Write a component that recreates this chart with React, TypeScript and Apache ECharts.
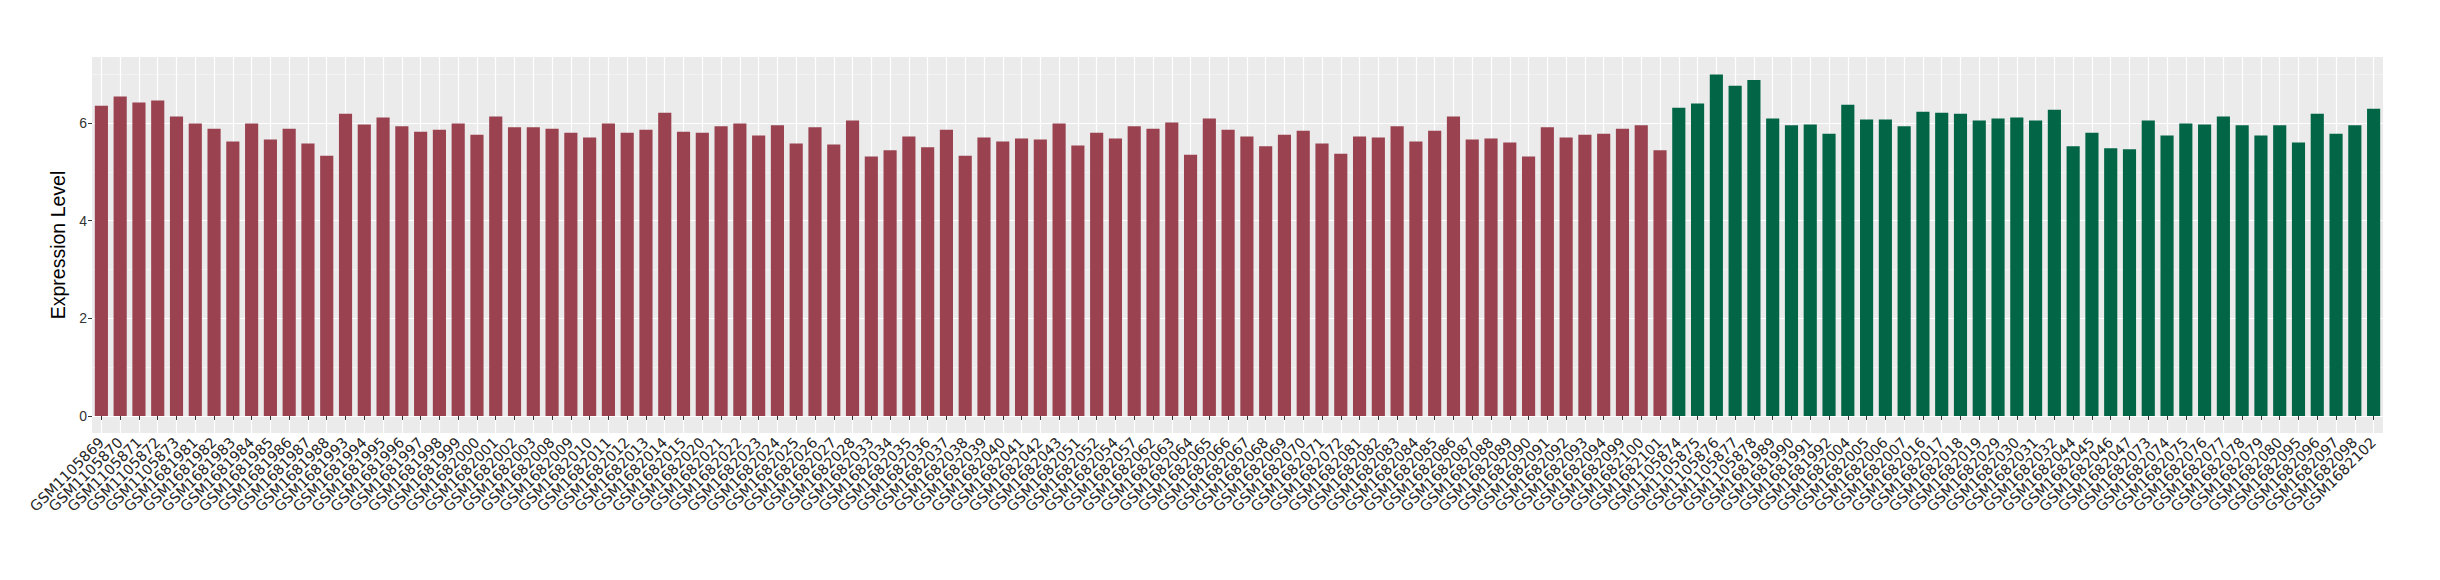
import React, { useEffect, useRef } from "react";
import * as echarts from "echarts";

const redSamples = [
  "GSM1105869", "GSM1105870", "GSM1105871", "GSM1105872", "GSM1105873",
  "GSM1681981", "GSM1681982", "GSM1681983", "GSM1681984", "GSM1681985",
  "GSM1681986", "GSM1681987", "GSM1681988", "GSM1681993", "GSM1681994",
  "GSM1681995", "GSM1681996", "GSM1681997", "GSM1681998", "GSM1681999",
  "GSM1682000", "GSM1682001", "GSM1682002", "GSM1682003", "GSM1682008",
  "GSM1682009", "GSM1682010", "GSM1682011", "GSM1682012", "GSM1682013",
  "GSM1682014", "GSM1682015", "GSM1682020", "GSM1682021", "GSM1682022",
  "GSM1682023", "GSM1682024", "GSM1682025", "GSM1682026", "GSM1682027",
  "GSM1682028", "GSM1682033", "GSM1682034", "GSM1682035", "GSM1682036",
  "GSM1682037", "GSM1682038", "GSM1682039", "GSM1682040", "GSM1682041",
  "GSM1682042", "GSM1682043", "GSM1682051", "GSM1682052", "GSM1682054",
  "GSM1682057", "GSM1682062", "GSM1682063", "GSM1682064", "GSM1682065",
  "GSM1682066", "GSM1682067", "GSM1682068", "GSM1682069", "GSM1682070",
  "GSM1682071", "GSM1682072", "GSM1682081", "GSM1682082", "GSM1682083",
  "GSM1682084", "GSM1682085", "GSM1682086", "GSM1682087", "GSM1682088",
  "GSM1682089", "GSM1682090", "GSM1682091", "GSM1682092", "GSM1682093",
  "GSM1682094", "GSM1682099", "GSM1682100", "GSM1682101",
];

const redValues = [
  6.35, 6.54, 6.42, 6.46, 6.13, 5.99, 5.88, 5.62, 5.99, 5.66,
  5.88, 5.58, 5.33, 6.19, 5.97, 6.11, 5.93, 5.82, 5.86, 5.99,
  5.76, 6.13, 5.91, 5.91, 5.88, 5.80, 5.70, 5.99, 5.80, 5.86,
  6.21, 5.82, 5.80, 5.93, 5.99, 5.74, 5.95, 5.58, 5.91, 5.56,
  6.05, 5.31, 5.44, 5.72, 5.50, 5.86, 5.33, 5.70, 5.62, 5.68,
  5.66, 5.99, 5.54, 5.80, 5.68, 5.93, 5.88, 6.01, 5.35, 6.09,
  5.86, 5.72, 5.52, 5.76, 5.84, 5.58, 5.37, 5.72, 5.70, 5.93,
  5.62, 5.84, 6.13, 5.66, 5.68, 5.60, 5.31, 5.91, 5.70, 5.76,
  5.78, 5.88, 5.95, 5.44,
];

const greenSamples = [
  "GSM1105874", "GSM1105875", "GSM1105876", "GSM1105877", "GSM1105878",
  "GSM1681989", "GSM1681990", "GSM1681991", "GSM1681992", "GSM1682004",
  "GSM1682005", "GSM1682006", "GSM1682007", "GSM1682016", "GSM1682017",
  "GSM1682018", "GSM1682019", "GSM1682029", "GSM1682030", "GSM1682031",
  "GSM1682032", "GSM1682044", "GSM1682045", "GSM1682046", "GSM1682047",
  "GSM1682073", "GSM1682074", "GSM1682075", "GSM1682076", "GSM1682077",
  "GSM1682078", "GSM1682079", "GSM1682080", "GSM1682095", "GSM1682096",
  "GSM1682097", "GSM1682098", "GSM1682102",
];

const greenValues = [
  6.31, 6.40, 6.99, 6.76, 6.88, 6.09, 5.95, 5.97, 5.78, 6.37,
  6.07, 6.07, 5.93, 6.23, 6.21, 6.19, 6.05, 6.09, 6.11, 6.05,
  6.27, 5.52, 5.80, 5.48, 5.46, 6.05, 5.74, 5.99, 5.97, 6.13,
  5.95, 5.74, 5.95, 5.60, 6.19, 5.78, 5.95, 6.29,
];

const yLabelTicks = [0, 2, 4, 6];
const yMinorTicks = [1, 3, 5, 7];

const RED = "#9A4250";
const GREEN = "#026646";

export default function App() {
  const ref = useRef<HTMLDivElement>(null);

  useEffect(() => {
    document.body.style.margin = "0";
    if (!ref.current) return;
    const chart = echarts.init(ref.current, null, { renderer: "svg" });

    const categories = [...redSamples, ...greenSamples];
    const data = [
      ...redValues.map((v) => ({ value: v, itemStyle: { color: RED } })),
      ...greenValues.map((v) => ({ value: v, itemStyle: { color: GREEN } })),
    ];

    chart.setOption({
      animation: false,
      backgroundColor: "#FFFFFF",
      grid: {
        left: 92,
        right: 57,
        top: 57,
        bottom: 147,
        show: true,
        backgroundColor: "#EBEBEB",
        borderWidth: 0,
        containLabel: false,
        outerBoundsMode: "none",
      },
      xAxis: {
        type: "category",
        data: categories,
        axisLine: { show: false },
        axisTick: {
          show: true,
          alignWithLabel: true,
          interval: 0,
          length: 4,
          lineStyle: { color: "#333333", width: 1 },
        },
        splitLine: {
          show: true,
          interval: 0,
          alignWithLabel: true,
          lineStyle: { color: "#FFFFFF", width: 1.2 },
        },
        axisLabel: {
          interval: 0,
          rotate: 45,
          margin: 7,
          fontSize: 14.5,
          fontFamily: "DejaVu Sans",
          color: "#262626",
        },
      },
      yAxis: [
        {
          type: "value",
          min: -0.35,
          max: 7.35,
          name: "Expression Level",
          nameLocation: "middle",
          nameGap: 12,
          nameTextStyle: {
            fontSize: 19.5,
            fontFamily: "Liberation Sans",
            color: "#000000",
          },
          axisLine: { show: false },
          axisTick: {
            show: true,
            length: 4,
            customValues: yLabelTicks,
            lineStyle: { color: "#333333", width: 1 },
          },
          axisLabel: {
            customValues: yLabelTicks,
            margin: 5,
            fontSize: 14,
            fontFamily: "Liberation Sans",
            color: "#333333",
          },
          splitLine: {
            show: true,
            lineStyle: { color: "#FFFFFF", width: 1.2 },
          },
        },
        {
          type: "value",
          min: -0.35,
          max: 7.35,
          axisLine: { show: false },
          axisTick: { show: false, customValues: yMinorTicks },
          axisLabel: { show: false, customValues: yMinorTicks },
          splitLine: {
            show: true,
            lineStyle: { color: "#F7F7F7", width: 0.7 },
          },
        },
      ],
      series: [
        {
          type: "bar",
          yAxisIndex: 0,
          data,
          barWidth: "70%",
        },
      ],
    });

    return () => chart.dispose();
  }, []);

  return <div ref={ref} style={{ width: 2440, height: 580 }} />;
}
